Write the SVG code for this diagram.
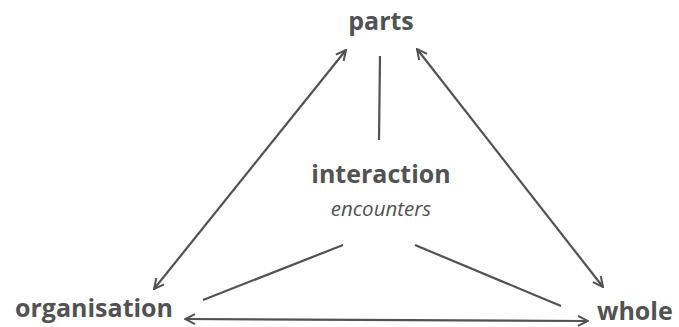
<svg xmlns="http://www.w3.org/2000/svg" width="679" height="327" viewBox="0 0 679 327">
<style>
.t{font-family:"Open Sans","Noto Sans",sans-serif;fill:#525252}
.b{font-weight:bold;font-size:25px}
.i{font-style:italic;font-size:20.5px}
.c{stroke:#525252;stroke-width:2.2;fill:none}
</style>
<defs>
<marker id="ah" viewBox="0 0 12 12" refX="11" refY="6" markerWidth="12" markerHeight="12" markerUnits="userSpaceOnUse" orient="auto-start-reverse">
<path d="M1,1 L11,6 L1,11" fill="none" stroke="#525252" stroke-width="2"/>
</marker>
</defs>
<rect width="679" height="327" fill="#ffffff"/>
<g id="connectors">
<line class="c" x1="346" y1="50" x2="154" y2="289" marker-start="url(#ah)" marker-end="url(#ah)"/>
<line class="c" x1="417" y1="49" x2="603" y2="287" marker-start="url(#ah)" marker-end="url(#ah)"/>
<line class="c" x1="185" y1="319" x2="588" y2="321" marker-start="url(#ah)" marker-end="url(#ah)"/>
<line class="c" x1="380" y1="56" x2="379" y2="140"/>
<line class="c" x1="343" y1="245" x2="203" y2="300"/>
<line class="c" x1="415" y1="245" x2="561" y2="306"/>
</g>
<g id="parts"><text class="t b" x="381" y="30" text-anchor="middle">parts</text></g>
<g id="interaction"><text class="t b" x="381" y="183" text-anchor="middle">interaction</text>
<text class="t i" x="381" y="216" text-anchor="middle">encounters</text></g>
<g id="organisation"><text class="t b" x="15" y="317">organisation</text></g>
<g id="whole"><text class="t b" x="597" y="320">whole</text></g>
</svg>
